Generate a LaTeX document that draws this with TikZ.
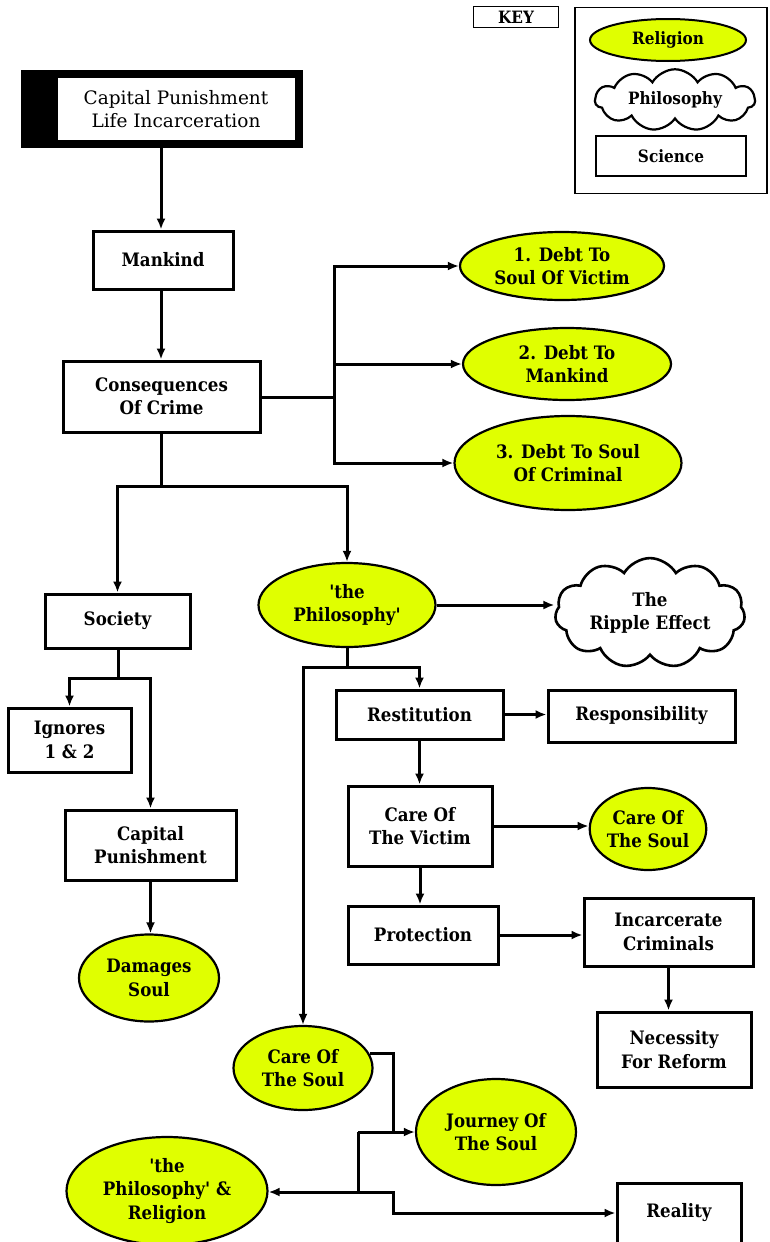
\documentclass[tikz,border=0pt]{standalone}
\usepackage{fontspec}
\setmainfont{DejaVu Serif}
\newfontfamily\cfont{DejaVu Serif Condensed}[BoldFont={* Bold}]
\usetikzlibrary{shapes.geometric,shapes.symbols,arrows.meta}
\definecolor{relyellow}{RGB}{224,255,0}
\newcommand{\q}{\textquotesingle}
\tikzset{
  txt/.style={font=\cfont\bfseries\fontsize{18.5}{23.5}\selectfont, align=center, inner sep=0pt},
  boxn/.style={txt, draw, line width=3pt, fill=white},
  reln/.style={txt, ellipse, draw, line width=2.2pt, fill=relyellow},
  cloudn/.style={txt, cloud, cloud puffs=11, cloud puff arc=120, aspect=2, draw, line width=2.6pt, fill=white},
  keyt/.style={font=\cfont\bfseries\fontsize{17}{20}\selectfont, align=center, inner sep=0pt},
  ln/.style={line width=3pt},
  arr/.style={line width=3pt, -{Latex[length=11pt,width=9pt]}},
}
\begin{document}
\begin{tikzpicture}[x=1pt,y=-1pt]
\useasboundingbox (0,0) rectangle (769,1242);
% key
\node[keyt, draw, line width=1.6pt, minimum width=85, minimum height=21] (key) at (516,17) {KEY};
\node[draw, line width=1.6pt, minimum width=192, minimum height=186, inner sep=0] (keyframe) at (671,100.5) {};
\node[keyt, ellipse, draw, line width=2pt, fill=relyellow, minimum width=156, minimum height=42] (krel) at (668,40) {Religion};
\node[keyt, cloud, cloud puffs=11, cloud puff arc=120, aspect=3.2, draw, line width=2.2pt, minimum width=160, minimum height=48] (kphil) at (675,100) {Philosophy};
\node[keyt, draw, line width=2.4pt, minimum width=150, minimum height=40] (ksci) at (671,156) {Science};
% title box
\fill (21,70) rectangle (58,148);
\node[font=\fontsize{18.5}{23.5}\selectfont, align=center, inner sep=0pt, draw, line width=8pt, minimum width=246, minimum height=70] (cp) at (176,109) {Capital Punishment\\Life Incarceration};
% boxes
\node[boxn, minimum width=140, minimum height=58] (mk) at (163,260) {Mankind};
\node[boxn, minimum width=197, minimum height=71] (cc) at (161.5,396.5) {Consequences\\Of Crime};
\node[boxn, minimum width=145, minimum height=54] (soc) at (117.5,621) {Society};
\node[boxn, minimum width=123, minimum height=64] (ig) at (69.5,740) {Ignores\\1 \& 2};
\node[boxn, minimum width=171, minimum height=70] (cap) at (150.5,845) {Capital\\Punishment};
\node[boxn, minimum width=167, minimum height=49] (rest) at (419.5,714.5) {Restitution};
\node[boxn, minimum width=187, minimum height=52] (resp) at (641.5,716) {Responsibility};
\node[boxn, minimum width=144, minimum height=80] (cv) at (420,826) {Care Of\\The Victim};
\node[boxn, minimum width=150, minimum height=58] (prot) at (423,935) {Protection};
\node[boxn, minimum width=169, minimum height=68] (inc) at (668.5,932) {Incarcerate\\Criminals};
\node[boxn, minimum width=154, minimum height=75] (nec) at (674,1049.5) {Necessity\\For Reform};
\node[boxn, minimum width=124, minimum height=60] (real) at (679,1213) {Reality};
% ellipses
\node[reln, minimum width=204, minimum height=68] (d1) at (562,266) {1. Debt To\\Soul Of Victim};
\node[reln, minimum width=208, minimum height=72] (d2) at (567,364) {2. Debt To\\Mankind};
\node[reln, minimum width=227, minimum height=94] (d3) at (568,463) {3. Debt To Soul\\Of Criminal};
\node[reln, minimum width=177, minimum height=84] (ph) at (347,605) {\q the\\Philosophy\q};
\node[reln, minimum width=116, minimum height=82] (cs1) at (648,829) {Care Of\\The Soul};
\node[reln, minimum width=140, minimum height=87] (ds) at (149,978) {Damages\\Soul};
\node[reln, minimum width=139, minimum height=84] (cs2) at (303,1068) {Care Of\\The Soul};
\node[reln, minimum width=160, minimum height=106] (js) at (496,1132) {Journey Of\\The Soul};
\node[reln, minimum width=201, minimum height=108] (pr) at (167,1191) {\q the\\Philosophy\q{} \&\\Religion};
% cloud
\node[cloudn, minimum width=190, minimum height=92] (rip) at (650,613) {The\\Ripple Effect};
% junctions
\coordinate (j1) at (334,397);
\coordinate (j2) at (161,486);
\coordinate (j3) at (347,667);
\coordinate (j4) at (118,678);
\coordinate (j5) at (393,1132);
\coordinate (j6) at (358,1132);
\coordinate (j7) at (358,1192);
\coordinate (j8) at (393,1192);
% connectors
\draw[arr] (cp.south -| 161,0) -- (161,0 |- mk.north);
\draw[arr] (mk.south -| 161,0) -- (161,0 |- cc.north);
\draw[ln] (cc.east |- j1) -- (j1);
\draw[arr] (j1) |- (d1.west);
\draw[arr] (j1) |- (d2.west);
\draw[arr] (j1) |- (d3.west);
\draw[ln] (cc.south -| j2) -- (j2);
\draw[arr] (j2) -| (soc.north);
\draw[arr] (j2) -| (ph.north);
\draw[arr] (ph.east) -- (rip.west |- ph.east);
\draw[ln] (ph.south) -- (j3);
\draw[arr] (j3) -| (rest.north);
\draw[arr] (j3) -| (cs2.north);
\draw[arr] (rest.east) -- (resp.west |- rest.east);
\draw[arr] (rest.south) -- (cv.north -| rest.south);
\draw[arr] (cv.east) -- (cs1.west |- cv.east);
\draw[arr] (cv.south) -- (prot.north -| cv.south);
\draw[arr] (prot.east) -- (inc.west |- prot.east);
\draw[arr] (inc.south) -- (nec.north -| inc.south);
\draw[ln] (soc.south -| j4) -- (j4);
\draw[arr] (j4) -| (ig.north);
\draw[arr] (j4) -| (cap.north);
\draw[arr] (cap.south) -- (ds.north -| cap.south);
\draw[arr] (cs2.12) -| (j5) -- (js.west);
\draw[ln] (j6) -- (j5);
\draw[ln] (j6) -- (j7);
\draw[arr] (j7) -- (pr.east |- j7);
\draw[arr] (j7) -- (j8) |- (real.west);
\end{tikzpicture}
\end{document}
